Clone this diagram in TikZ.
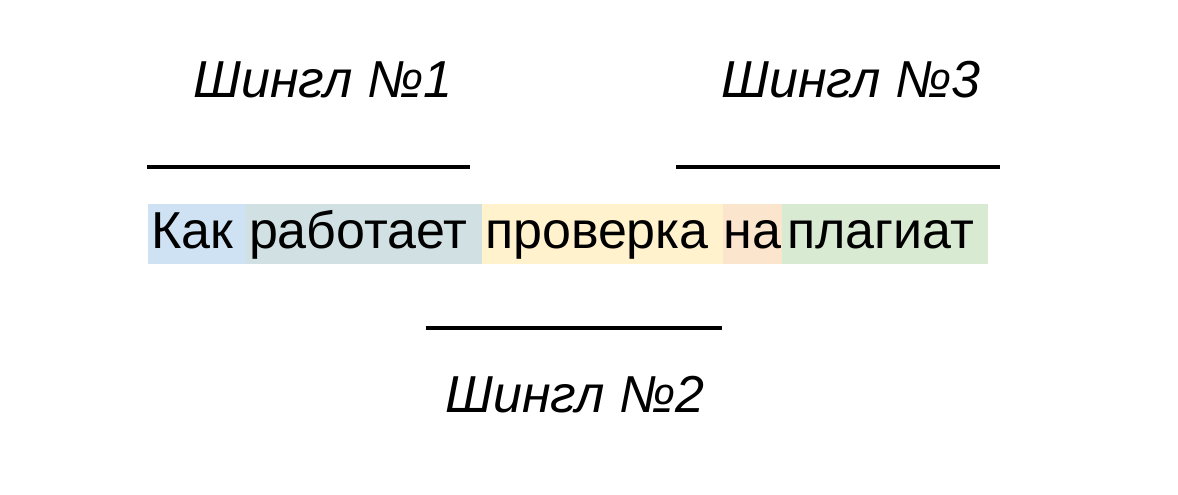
\documentclass[tikz,border=0pt]{standalone}
\usepackage{fontspec}
\setmainfont{Liberation Sans}
\usetikzlibrary{positioning}
\definecolor{kakblue}{HTML}{CFE2F3}
\definecolor{rabteal}{HTML}{D0E0E3}
\definecolor{provyellow}{HTML}{FFF2CC}
\definecolor{naorange}{HTML}{FCE5CD}
\definecolor{plaggreen}{HTML}{D9EAD3}
\tikzset{
  word/.style={inner xsep=1.5pt,inner ysep=0pt,outer sep=0pt,align=left,
    text height=22pt,text depth=8pt,font=\fontsize{26}{30}\selectfont},
  shingl/.style={font=\fontsize{26}{30}\selectfont\itshape,inner sep=0pt},
  underline/.style={line width=1.6pt}
}
\begin{document}
\begin{tikzpicture}[x=0.5pt,y=0.5pt]
\useasboundingbox (0,0) rectangle (1178,-494);
\node[word,fill=kakblue,text width=46pt,anchor=base west] (w1) at (148,-248) {Как};
\node[word,fill=rabteal,text width=115pt,right=0pt of w1] (w2) {работает};
\node[word,fill=provyellow,text width=117.5pt,right=0pt of w2] (w3) {проверка};
\node[word,fill=naorange,inner xsep=0pt,minimum width=29.5pt,right=0pt of w3] (w4) {на};
\node[word,fill=plaggreen,text width=100pt,right=0pt of w4] (w5) {\hspace*{1pt}плагиат};

\draw[underline] (147,-167) -- (470,-167);
\draw[underline] (676,-167) -- (1000,-167);
\draw[underline] (426,-328) -- (722,-328);

\node[shingl,anchor=base] (s1) at (323,-97) {Шингл №1};
\node[shingl,anchor=base] (s3) at (851,-97) {Шингл №3};
\node[shingl,anchor=base] (s2) at (575,-412) {Шингл №2};
\end{tikzpicture}
\end{document}
